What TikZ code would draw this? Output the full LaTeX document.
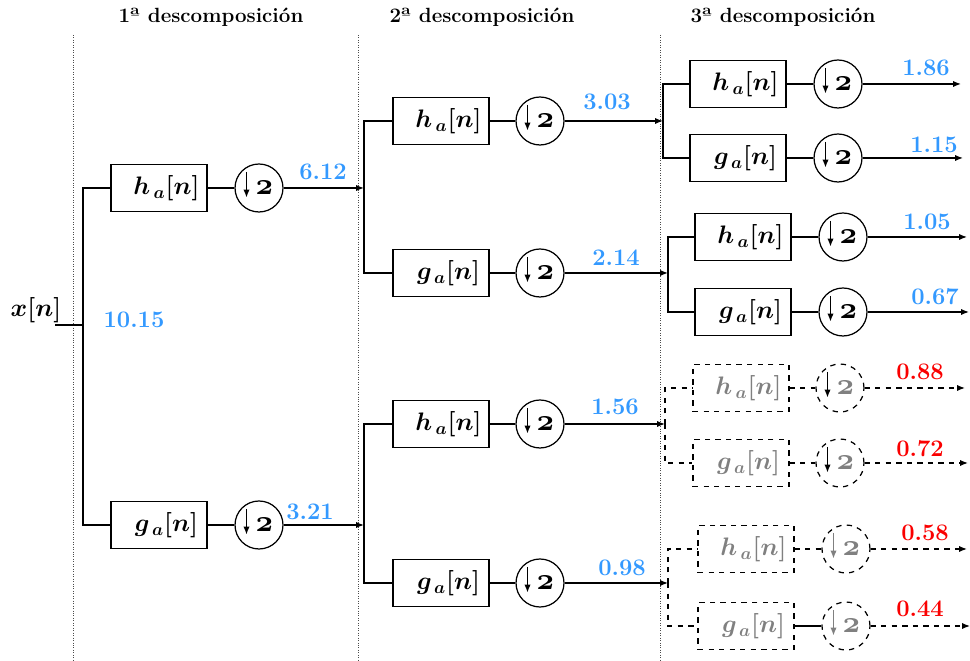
\documentclass[tikz,border=0pt]{standalone}
\usetikzlibrary{arrows.meta}
\definecolor{valblue}{RGB}{51,153,255}
\definecolor{valred}{RGB}{250,0,0}
\begin{document}
\begin{tikzpicture}[x=0.02cm,y=-0.02cm,
  wire/.style={line width=0.7pt},
  sig/.style={wire,-{Latex[length=4.5pt,width=3.5pt]}},
  filt/.style={draw,line width=0.7pt,minimum width=1.92cm,minimum height=0.93cm,inner sep=0pt,font=\Large\boldmath},
  filtoff/.style={filt,dashed,text=gray},
  % downsampler: arrow drawn inside the circle, the factor as text
  dsarrow/.style={path picture={\draw[line width=0.7pt,solid,#1,-{Latex[length=4.5pt,width=3.6pt]}]
      ([shift={(-12.5,-16)}]path picture bounding box.center) --
      ([shift={(-12.5,9.5)}]path picture bounding box.center);}},
  down/.style={draw,circle,line width=0.7pt,minimum size=0.96cm,inner sep=0pt,
      font=\fontsize{16}{18}\selectfont\boldmath,dsarrow=black},
  downoff/.style={down,dashed,text=gray},
  downfaint/.style={downoff,dsarrow=gray},
  val/.style={font=\fontsize{13.5}{15}\selectfont\bfseries,text=valblue},
  valoff/.style={val,text=valred},
  head/.style={font=\fontsize{11.7}{13}\selectfont\bfseries},
  sep/.style={densely dotted,black!70,line width=0.4pt}]
\useasboundingbox (0,0) rectangle (970,661);
\newcommand\factor{\hspace{6.2pt}$\mathchar"0132$}

% stage titles and separators
\node[head] (T1) at (211,17) {1ª descomposición};
\node[head] (T2) at (482,17) {2ª descomposición};
\node[head] (T3) at (783,17) {3ª descomposición};
\coordinate (S1a) at (73,35);  \coordinate (S1b) at (73,661);
\coordinate (S2a) at (358,35); \coordinate (S2b) at (358,661);
\coordinate (S3a) at (660,35); \coordinate (S3b) at (660,661);
\draw[sep] (S1a) -- (S1b);
\draw[sep] (S2a) -- (S2b);
\draw[sep] (S3a) -- (S3b);

% ---------- level 1 ----------
\node[font=\Large\boldmath] (x) at (36,310) {$x[n]$};
\coordinate (xin) at (55,325);
\coordinate (k1) at (83,325);
\node[filt] (h1) at (159,188) {\hspace{0.3cm}$h_{\,a}[n]$};
\node[down] (dh1) at (259,188) {\factor};
\node[filt] (g1) at (159,525) {\hspace{0.3cm}$g_{\,a}[n]$};
\node[down] (dg1) at (259,525) {\factor};
\coordinate (k2a) at (364,188);
\coordinate (k2b) at (364,525);
\draw[wire] (xin) -- (k1);
\draw[wire] (k1) |- (h1.west);
\draw[wire] (k1) |- (g1.west);
\draw[wire] (h1) -- (dh1);
\draw[wire] (g1) -- (dg1);
\draw[sig] (dh1) -- (k2a);
\draw[sig] (dg1) -- (k2b);
\node[val] (v0) at (134,320) {10.15};
\node[val] (v1) at (323,172) {6.12};
\node[val] (v2) at (310,512) {3.21};

% ---------- level 2, upper pair ----------
\node[filt] (h2a) at (441,121) {\hspace{0.3cm}$h_{\,a}[n]$};
\node[down] (dh2a) at (540,121) {\factor};
\node[filt] (g2a) at (441,273) {\hspace{0.3cm}$g_{\,a}[n]$};
\node[down] (dg2a) at (540,273) {\factor};
\coordinate (k3a) at (663,121);
\coordinate (k3b) at (668,273);
\draw[wire] (k2a) |- (h2a.west);
\draw[wire] (k2a) |- (g2a.west);
\draw[wire] (h2a) -- (dh2a);
\draw[wire] (g2a) -- (dg2a);
\draw[sig] (dh2a) -- (k3a);
\draw[sig] (dg2a) -- (k3b);
\node[val] (v3) at (607,102) {3.03};
\node[val] (v4) at (616,258) {2.14};

% ---------- level 2, lower pair ----------
\node[filt] (h2b) at (441,424) {\hspace{0.3cm}$h_{\,a}[n]$};
\node[down] (dh2b) at (540,424) {\factor};
\node[filt] (g2b) at (441,583) {\hspace{0.3cm}$g_{\,a}[n]$};
\node[down] (dg2b) at (540,583) {\factor};
\coordinate (k3c) at (665,424);
\coordinate (k3d) at (668,583);
\draw[wire] (k2b) |- (h2b.west);
\draw[wire] (k2b) |- (g2b.west);
\draw[wire] (h2b) -- (dh2b);
\draw[wire] (g2b) -- (dg2b);
\draw[sig] (dh2b) -- (k3c);
\draw[sig] (dg2b) -- (k3d);
\node[val] (v5) at (615,407) {1.56};
\node[val] (v6) at (622,568) {0.98};

% ---------- level 3, kept bands ----------
\node[filt] (h3a) at (738,84) {\hspace{0.3cm}$h_{\,a}[n]$};
\node[down] (dh3a) at (838,84) {\factor};
\node[filt] (g3a) at (738,158) {\hspace{0.3cm}$g_{\,a}[n]$};
\node[down] (dg3a) at (838,158) {\factor};
\coordinate (oh3a) at (961,84);
\coordinate (og3a) at (963,158);
\draw[wire] (k3a) |- (h3a.west);
\draw[wire] (k3a) |- (g3a.west);
\draw[wire] (h3a) -- (dh3a);
\draw[wire] (g3a) -- (dg3a);
\draw[sig] (dh3a) -- (oh3a);
\draw[sig] (dg3a) -- (og3a);
\node[val] (v7) at (926,68) {1.86};
\node[val] (v8) at (934,145) {1.15};

\node[filt] (h3b) at (743,237) {\hspace{0.3cm}$h_{\,a}[n]$};
\node[down] (dh3b) at (843,237) {\factor};
\node[filt] (g3b) at (743,312) {\hspace{0.3cm}$g_{\,a}[n]$};
\node[down] (dg3b) at (843,312) {\factor};
\coordinate (oh3b) at (967,237);
\coordinate (og3b) at (969,312);
\draw[wire] (k3b) |- (h3b.west);
\draw[wire] (k3b) |- (g3b.west);
\draw[wire] (h3b) -- (dh3b);
\draw[wire] (g3b) -- (dg3b);
\draw[sig] (dh3b) -- (oh3b);
\draw[sig] (dg3b) -- (og3b);
\node[val] (v9) at (927,222) {1.05};
\node[val] (v10) at (935,297) {0.67};

% ---------- level 3, discarded bands ----------
\node[filtoff] (h3c) at (741,388) {\hspace{0.3cm}$h_{\,a}[n]$};
\node[downoff] (dh3c) at (840,388) {\factor};
\node[filtoff] (g3c) at (741,463) {\hspace{0.3cm}$g_{\,a}[n]$};
\node[downoff] (dg3c) at (840,463) {\factor};
\coordinate (oh3c) at (965,388);
\coordinate (og3c) at (968,463);
\draw[wire,dashed] (k3c) |- (h3c.west);
\draw[wire,dashed] (k3c) |- (g3c.west);
\draw[wire,dashed] (h3c) -- (dh3c);
\draw[wire,dashed] (g3c) -- (dg3c);
\draw[sig,dashed] (dh3c) -- (oh3c);
\draw[sig,dashed] (dg3c) -- (og3c);
\node[valoff] (v11) at (920,372) {0.88};
\node[valoff] (v12) at (920,449) {0.72};

\node[filtoff] (h3d) at (746,549) {\hspace{0.3cm}$h_{\,a}[n]$};
\node[downfaint] (dh3d) at (846,549) {\factor};
\node[filtoff] (g3d) at (746,626) {\hspace{0.3cm}$g_{\,a}[n]$};
\node[downfaint] (dg3d) at (846,626) {\factor};
\coordinate (oh3d) at (967,549);
\coordinate (og3d) at (970,626);
\draw[wire,dashed] (k3d) |- (h3d.west);
\draw[wire,dashed] (k3d) |- (g3d.west);
\draw[wire,dashed] (h3d) -- (dh3d);
\draw[wire] (g3d) -- (dg3d);
\draw[sig,dashed] (dh3d) -- (oh3d);
\draw[sig,dashed] (dg3d) -- (og3d);
\node[valoff] (v13) at (925,533) {0.58};
\node[valoff] (v14) at (920,609) {0.44};
\end{tikzpicture}
\end{document}
